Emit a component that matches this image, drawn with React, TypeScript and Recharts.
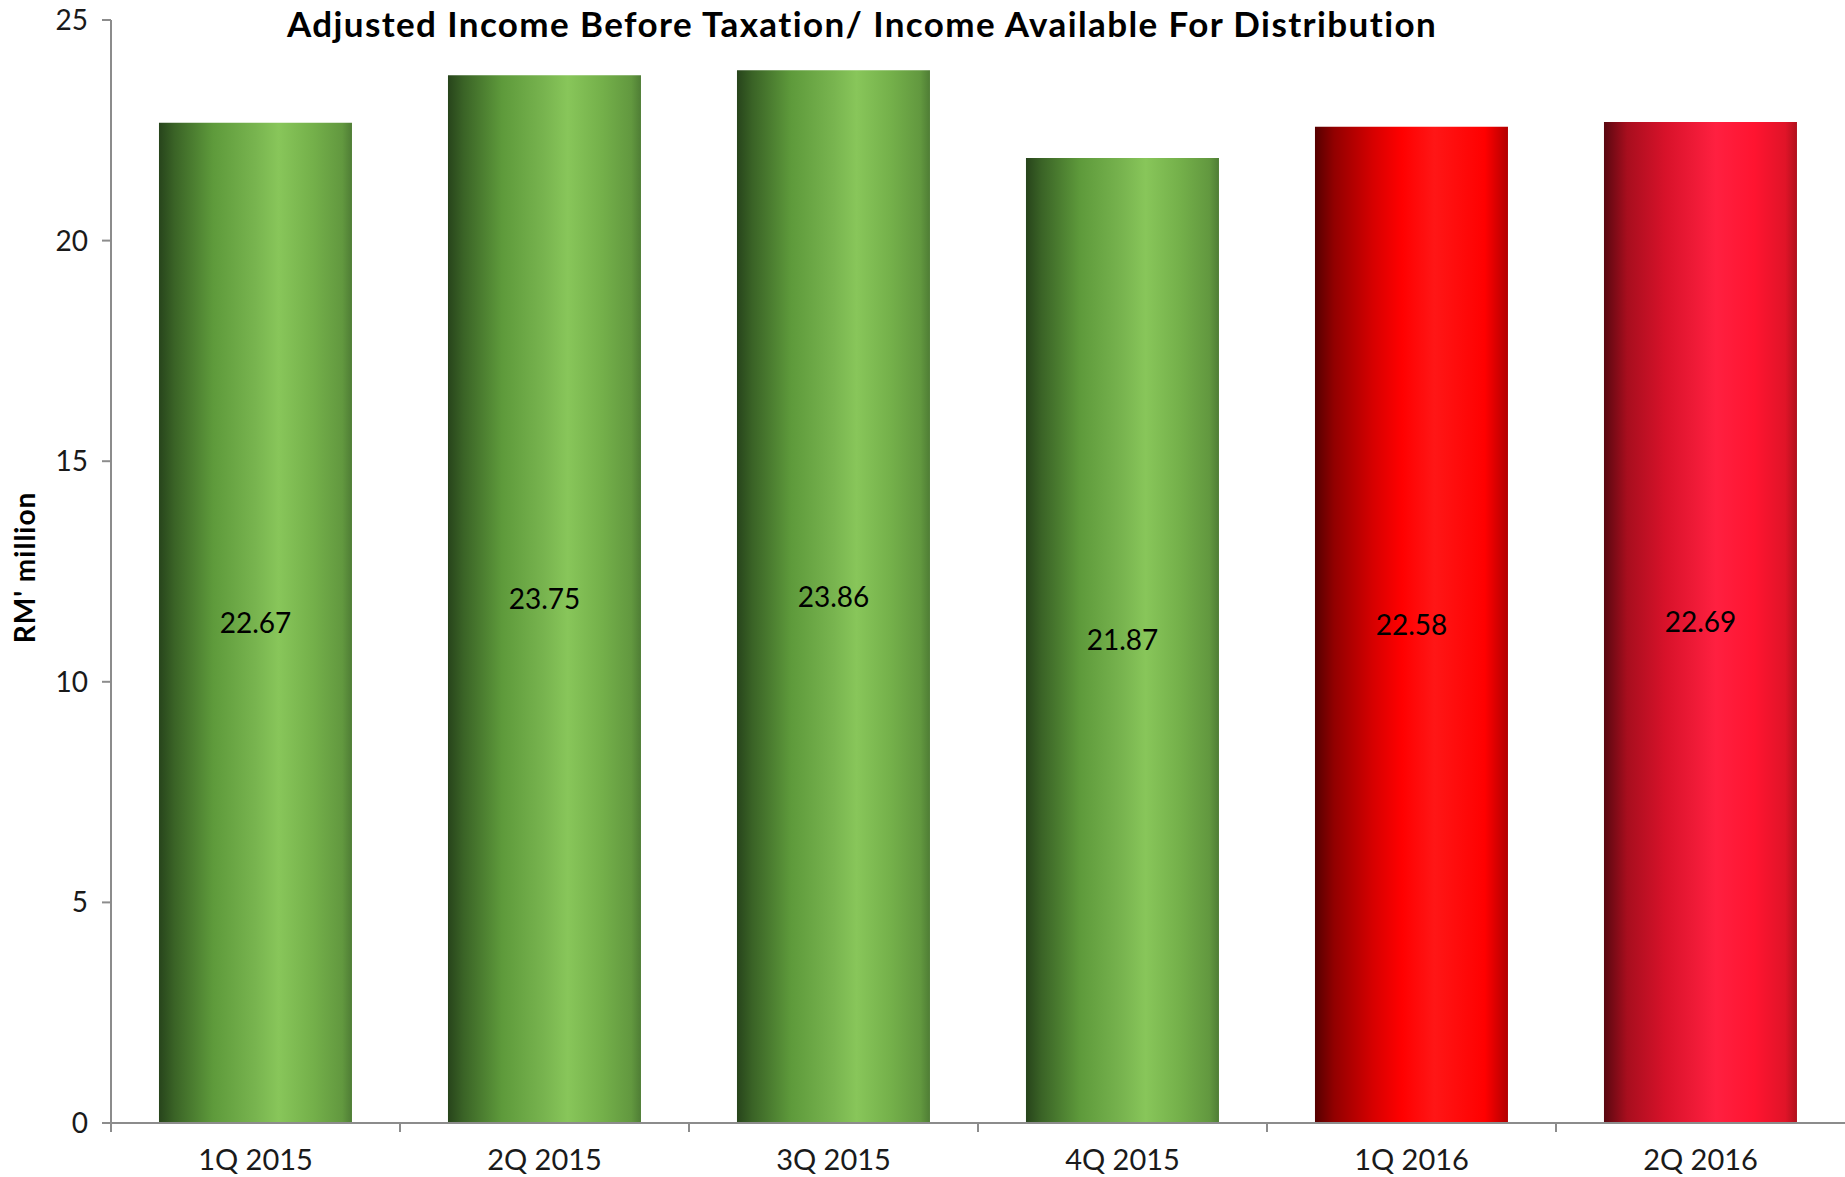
import { BarChart, Bar, XAxis, YAxis, Cell, LabelList, Label } from 'recharts';

const QUARTERS = ['1Q 2015', '2Q 2015', '3Q 2015', '4Q 2015', '1Q 2016', '2Q 2016'];
const INCOME = [22.67, 23.75, 23.86, 21.87, 22.58, 22.69];
const BAR_FILLS = ['green', 'green', 'green', 'green', 'red1', 'red2'];
const Y_TICKS = [0, 5, 10, 15, 20, 25];

const W = 1845;
const H = 1177;
const Y_AXIS_W = 111;
const BAND = (W - Y_AXIS_W) / QUARTERS.length;
const FONT = 'Lato, "Open Sans", sans-serif';

const data = QUARTERS.map((q, i) => ({ quarter: q, value: INCOME[i], fill: BAR_FILLS[i] }));

const QuarterTick = ({ x, y, payload }: any) => (
  <g>
    <line x1={x - BAND / 2} y1={y - 8} x2={x - BAND / 2} y2={y + 1} stroke="#8c8c8c" strokeWidth={2} />
    <text x={x} y={y + 39} textAnchor="middle" fontSize={29} fill="#1a1a1a" fontFamily={FONT}>
      {payload.value}
    </text>
  </g>
);

const AxisTitle = ({ viewBox }: any) => {
  const cy = viewBox.y + viewBox.height / 2 - 4;
  return (
    <text
      x={35}
      y={cy}
      transform={`rotate(-90, 35, ${cy})`}
      textAnchor="middle"
      fontSize={28}
      letterSpacing={1}
      fontWeight="bold"
      fill="#000"
      fontFamily={FONT}
    >
      RM' million
    </text>
  );
};

export default function App() {
  return (
    <div style={{ position: 'absolute', left: 0, top: 0, width: W, height: H, background: '#fff' }}>
      <div
        style={{
          position: 'absolute',
          left: 0,
          width: 1724,
          top: 2,
          textAlign: 'center',
          fontFamily: FONT,
          fontWeight: 'bold',
          fontSize: 35,
          letterSpacing: 1.4,
          color: '#000',
        }}
      >
        Adjusted Income Before Taxation/ Income Available For Distribution
      </div>
      <BarChart width={W} height={H} data={data} margin={{ top: 20, right: 0, left: 0, bottom: 0 }} barCategoryGap="16.6%">
        <defs>
          <linearGradient id="green" x1="0" y1="0" x2="1" y2="0">
            <stop offset="0%" stopColor="#27441b" />
            <stop offset="8%" stopColor="#3a6326" />
            <stop offset="28%" stopColor="#5e9a3b" />
            <stop offset="50%" stopColor="#78b44f" />
            <stop offset="62%" stopColor="#88c65a" />
            <stop offset="80%" stopColor="#74b04a" />
            <stop offset="95%" stopColor="#62983f" />
            <stop offset="100%" stopColor="#4f7d35" />
          </linearGradient>
          <linearGradient id="red1" x1="0" y1="0" x2="1" y2="0">
            <stop offset="0%" stopColor="#560000" />
            <stop offset="10%" stopColor="#920000" />
            <stop offset="30%" stopColor="#d60000" />
            <stop offset="45%" stopColor="#ff0000" />
            <stop offset="62%" stopColor="#ff1616" />
            <stop offset="88%" stopColor="#ff0000" />
            <stop offset="100%" stopColor="#b20000" />
          </linearGradient>
          <linearGradient id="red2" x1="0" y1="0" x2="1" y2="0">
            <stop offset="0%" stopColor="#5a0810" />
            <stop offset="12%" stopColor="#a80e1e" />
            <stop offset="32%" stopColor="#d8122a" />
            <stop offset="58%" stopColor="#ff2040" />
            <stop offset="78%" stopColor="#ff1430" />
            <stop offset="94%" stopColor="#e01428" />
            <stop offset="100%" stopColor="#b0101c" />
          </linearGradient>
        </defs>
        <XAxis
          dataKey="quarter"
          height={54}
          stroke="#8c8c8c"
          strokeWidth={2}
          tickLine={false}
          tick={<QuarterTick />}
          interval={0}
        />
        <YAxis
          domain={[0, 25]}
          ticks={Y_TICKS}
          width={Y_AXIS_W}
          stroke="#8c8c8c"
          strokeWidth={2}
          tickSize={9}
          tick={{ fontSize: 28, fill: '#1a1a1a', fontFamily: FONT }}
          tickMargin={14}
        >
          <Label content={<AxisTitle />} />
        </YAxis>
        <Bar dataKey="value" isAnimationActive={false}>
          {data.map((d) => (
            <Cell key={d.quarter} fill={`url(#${d.fill})`} />
          ))}
          <LabelList dataKey="value" position="center" fontSize={28} fill="#000" fontFamily={FONT} />
        </Bar>
      </BarChart>
    </div>
  );
}
